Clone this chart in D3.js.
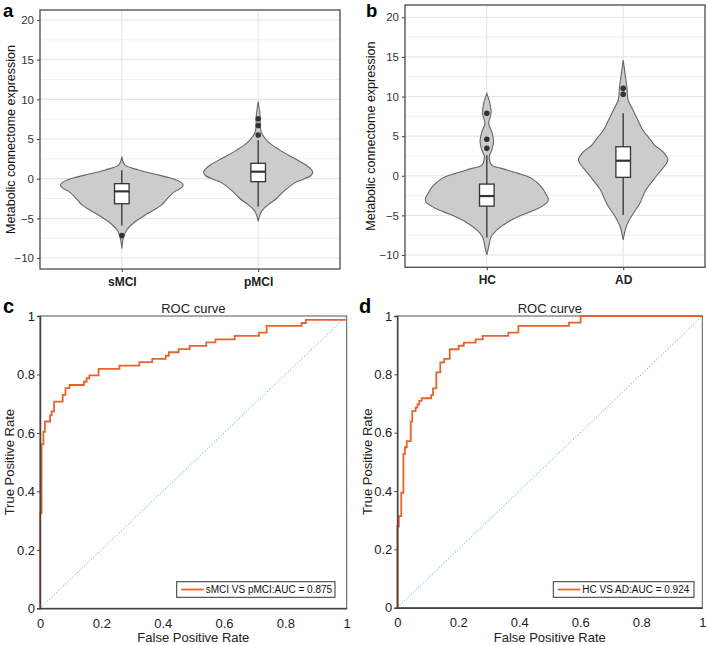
<!DOCTYPE html>
<html><head><meta charset="utf-8">
<script src="https://cdn.jsdelivr.net/npm/d3@7"></script>
<style>
body{margin:0;background:#fff}
svg{display:block}
text{font-family:"Liberation Sans",Arial,Helvetica,sans-serif}
</style>
</head><body>
<svg id="chart" width="708" height="645"></svg>
<script>
// ---------------- DATA ----------------
const groupsA = ["sMCI", "pMCI"];
const groupsB = ["HC", "AD"];
const violinTicks = [-10, -5, 0, 5, 10, 15, 20];
const violinMinor = [-7.5, -2.5, 2.5, 7.5, 12.5, 17.5];

// violin profiles: value and relative density (1 = widest)
const sMCI_val = [2.77, 1.73, 1.10, 0.59, 0.04, -0.5, -0.8, -1.15, -1.64, -2.6, -3.3, -4.37, -5.4, -6.47, -7.3, -8.8];
const sMCI_den = [0, 0.05, 0.27, 0.53, 0.81, 0.97, 1.0, 0.97, 0.86, 0.73, 0.65, 0.43, 0.22, 0.08, 0.03, 0];
const pMCI_val = [9.7, 8.03, 5.9, 4.66, 3.6, 2.57, 1.73, 1.2, 0.8, 0.4, -0.1, -0.5, -1.0, -1.64, -2.5, -3.3, -4.16, -5.4];
const pMCI_den = [0, 0.03, 0.05, 0.16, 0.35, 0.59, 0.78, 0.86, 0.89, 0.86, 0.73, 0.6, 0.51, 0.41, 0.3, 0.16, 0.05, 0];
const HC_val = [10.4, 9.14, 7.88, 6.61, 5.56, 4.3, 3.24, 2.4, 1.35, 0.93, 0.3, -0.33, -1.39, -2.4, -2.86, -3.3, -3.7, -4.33, -4.96, -5.8, -6.86, -7.7, -8.96, -10.0];
const HC_den = [0, 0.05, 0.07, 0.03, 0.08, 0.11, 0.08, 0.04, 0.08, 0.24, 0.51, 0.73, 0.89, 0.97, 1.0, 0.99, 0.93, 0.78, 0.57, 0.35, 0.16, 0.07, 0.03, 0];
const AD_val = [14.6, 12.9, 11.2, 9.56, 8.3, 7.0, 5.77, 4.5, 3.88, 3.03, 2.4, 2.05, 1.6, 0.72, -0.54, -1.8, -3.49, -5.17, -6.4, -8.1];
const AD_den = [0, 0.03, 0.06, 0.08, 0.16, 0.24, 0.32, 0.45, 0.51, 0.65, 0.71, 0.73, 0.71, 0.62, 0.49, 0.37, 0.27, 0.13, 0.05, 0];

// box stats: [lower whisker, Q1, median, Q3, upper whisker]
const sMCI_box = [-5.9, -3.16, -1.6, -0.63, 1.05];
const pMCI_box = [-3.5, -0.38, 0.88, 1.94, 4.85];
const HC_box = [-7.8, -3.83, -2.56, -1.05, 2.6];
const AD_box = [-4.96, -0.2, 1.9, 3.66, 7.88];
const sMCI_out = [-7.17];
const pMCI_out = [5.5, 6.7, 7.55];
const HC_out = [3.46, 4.6, 7.88];
const AD_out = [10.28, 11.03];

// ROC curves (fpr, tpr) corner points
const rocC_fpr = [0, 0, 0.005, 0.011, 0.016, 0.033, 0.038, 0.046, 0.074, 0.083, 0.096, 0.143, 0.152, 0.161, 0.191, 0.259, 0.324, 0.366, 0.41, 0.42, 0.452, 0.488, 0.542, 0.572, 0.635, 0.714, 0.739, 0.853, 0.867, 1];
const rocC_tpr = [0, 0.325, 0.561, 0.604, 0.639, 0.661, 0.674, 0.707, 0.73, 0.753, 0.764, 0.775, 0.787, 0.797, 0.819, 0.83, 0.842, 0.853, 0.864, 0.876, 0.887, 0.898, 0.91, 0.92, 0.932, 0.943, 0.966, 0.976, 0.987, 0.987];
const rocD_fpr = [0, 0, 0.005, 0.013, 0.02, 0.025, 0.031, 0.044, 0.049, 0.06, 0.066, 0.072, 0.08, 0.111, 0.117, 0.128, 0.141, 0.154, 0.172, 0.201, 0.218, 0.257, 0.28, 0.364, 0.397, 0.563, 0.601, 1];
const rocD_tpr = [0, 0.278, 0.314, 0.394, 0.527, 0.55, 0.571, 0.638, 0.674, 0.686, 0.697, 0.709, 0.718, 0.729, 0.752, 0.807, 0.841, 0.853, 0.886, 0.898, 0.909, 0.92, 0.932, 0.943, 0.966, 0.977, 1, 1];
const rocTicks = [0, 0.2, 0.4, 0.6, 0.8, 1];
const rocLabelC = "sMCI VS pMCI:AUC = 0.875";
const rocLabelD = "HC VS AD:AUC = 0.924";

// ---------------- DRAWING ----------------
const svg = d3.select("#chart");
const FONT = '"Liberation Sans",Arial,Helvetica,sans-serif';

function violinPanel(cfg) {
  const g = svg.append("g");
  const x = d3.scalePoint().domain(cfg.groups).range([cfg.left, cfg.right]).padding(0.6);
  const y = d3.scaleLinear().domain([-10, 20]).range(cfg.yRange);
  const step = x.step();
  const w = d3.scaleLinear().domain([0, 1]).range([0, 0.45 * step]);

  // grid
  g.selectAll(".minor").data(violinMinor).join("line")
    .attr("x1", cfg.left).attr("x2", cfg.right)
    .attr("y1", d => y(d)).attr("y2", d => y(d))
    .attr("stroke", "#f1f1f1").attr("stroke-width", 1);
  g.selectAll(".major").data(violinTicks).join("line")
    .attr("x1", cfg.left).attr("x2", cfg.right)
    .attr("y1", d => y(d)).attr("y2", d => y(d))
    .attr("stroke", "#e6e6e6").attr("stroke-width", 1.1);
  g.selectAll(".vgrid").data(cfg.groups).join("line")
    .attr("x1", d => x(d)).attr("x2", d => x(d))
    .attr("y1", cfg.top).attr("y2", cfg.bottom)
    .attr("stroke", "#e6e6e6").attr("stroke-width", 1.1);

  cfg.series.forEach((s, i) => {
    const cx = x(cfg.groups[i]);
    const pts = s.val.map((v, k) => ({ v, d: s.den[k] }));
    const area = d3.area()
      .y(p => y(p.v))
      .x0(p => cx - w(p.d))
      .x1(p => cx + w(p.d))
      .curve(d3.curveCatmullRom.alpha(0.5));
    g.append("path").datum(pts).attr("d", area)
      .attr("fill", "#cccccc").attr("stroke", "#666666").attr("stroke-width", 1.1);
    const b = s.box;
    const bw = 0.107 * step;
    g.append("line").attr("x1", cx).attr("x2", cx).attr("y1", y(b[4])).attr("y2", y(b[3]))
      .attr("stroke", "#333").attr("stroke-width", 1.3);
    g.append("line").attr("x1", cx).attr("x2", cx).attr("y1", y(b[1])).attr("y2", y(b[0]))
      .attr("stroke", "#333").attr("stroke-width", 1.3);
    g.append("rect").attr("x", cx - bw / 2).attr("width", bw)
      .attr("y", y(b[3])).attr("height", y(b[1]) - y(b[3]))
      .attr("fill", "#fff").attr("stroke", "#333").attr("stroke-width", 1.3);
    g.append("line").attr("x1", cx - bw / 2).attr("x2", cx + bw / 2).attr("y1", y(b[2])).attr("y2", y(b[2]))
      .attr("stroke", "#333").attr("stroke-width", 2.2);
    g.selectAll(null).data(s.out).join("circle")
      .attr("cx", cx).attr("cy", d => y(d)).attr("r", 2.8).attr("fill", "#333");
  });

  // border
  g.append("rect").attr("x", cfg.left).attr("y", cfg.top)
    .attr("width", cfg.right - cfg.left).attr("height", cfg.bottom - cfg.top)
    .attr("fill", "none").attr("stroke", "#4a4a4a").attr("stroke-width", 1.3);

  // y axis
  const ya = g.append("g").attr("transform", `translate(${cfg.left},0)`)
    .call(d3.axisLeft(y).tickValues(violinTicks).tickSize(3).tickPadding(3));
  ya.select(".domain").remove();
  ya.selectAll("line").attr("stroke", "#4a4a4a").attr("stroke-width", 1.1);
  ya.selectAll("text").attr("font-size", 11.5).attr("font-family", FONT).attr("fill", "#333");
  // x axis
  const xa = g.append("g").attr("transform", `translate(0,${cfg.bottom})`)
    .call(d3.axisBottom(x).tickSize(3).tickPadding(5));
  xa.select(".domain").remove();
  xa.selectAll("line").attr("stroke", "#4a4a4a").attr("stroke-width", 1.1);
  xa.selectAll("text").attr("font-size", 12).attr("font-weight", "bold").attr("font-family", FONT).attr("fill", "#222");

  g.append("text").attr("transform", `translate(${cfg.titleX},${(cfg.top + cfg.bottom) / 2}) rotate(-90)`)
    .attr("text-anchor", "middle").attr("font-size", 12.5).attr("fill", "#111")
    .text("Metabolic connectome expression");
  g.append("text").attr("x", cfg.letterX).attr("y", 17).attr("font-size", 18.5)
    .attr("font-weight", "bold").attr("fill", "#000").text(cfg.letter);
}

violinPanel({
  groups: groupsA, left: 40, right: 340, top: 10, bottom: 269, yRange: [258, 20],
  titleX: 14.5, letter: "a", letterX: 3,
  series: [
    { val: sMCI_val, den: sMCI_den, box: sMCI_box, out: sMCI_out },
    { val: pMCI_val, den: pMCI_den, box: pMCI_box, out: pMCI_out }
  ]
});
violinPanel({
  groups: groupsB, left: 405, right: 705, top: 5, bottom: 267.3, yRange: [255, 17.3],
  titleX: 374.5, letter: "b", letterX: 366,
  series: [
    { val: HC_val, den: HC_den, box: HC_box, out: HC_out },
    { val: AD_val, den: AD_den, box: AD_box, out: AD_out }
  ]
});

function rocPanel(cfg) {
  const g = svg.append("g");
  const x = d3.scaleLinear().domain([0, 1]).range([cfg.left, cfg.right]);
  const y = d3.scaleLinear().domain([0, 1]).range([cfg.bottom, cfg.top]);

  g.append("rect").attr("x", cfg.left).attr("y", cfg.top)
    .attr("width", cfg.right - cfg.left).attr("height", cfg.bottom - cfg.top)
    .attr("fill", "#fff").attr("stroke", "#555").attr("stroke-width", 1);

  // diagonal reference
  g.append("line").attr("x1", x(0)).attr("y1", y(0)).attr("x2", x(1)).attr("y2", y(1))
    .attr("stroke", "#4ea3e0").attr("stroke-width", 1).attr("stroke-dasharray", "1.2,2");

  const pts = cfg.fpr.map((f, i) => [f, cfg.tpr[i]]);
  const line = d3.line().x(d => x(d[0])).y(d => y(d[1])).curve(d3.curveStepAfter);
  g.append("path").datum(pts).attr("d", line)
    .attr("fill", "none").attr("stroke", "#e8622c").attr("stroke-width", 1.8);

  const xa = g.append("g").attr("transform", `translate(0,${cfg.bottom})`)
    .call(d3.axisBottom(x).tickValues(rocTicks).tickFormat(d3.format("~g")).tickSize(0).tickPadding(10));
  xa.select(".domain").attr("stroke", "#444").attr("stroke-width", 1.5);
  xa.selectAll("text").attr("font-size", 13).attr("font-family", FONT).attr("fill", "#222");
  const ya = g.append("g").attr("transform", `translate(${cfg.left},0)`)
    .call(d3.axisLeft(y).tickValues(rocTicks).tickFormat(d3.format("~g")).tickSize(3).tickPadding(2));
  ya.select(".domain").attr("stroke", "#444").attr("stroke-width", 1.5);
  ya.selectAll("line").attr("stroke", "#444");
  ya.selectAll("text").attr("font-size", 13).attr("font-family", FONT).attr("fill", "#222");

  const cx = (cfg.left + cfg.right) / 2;
  g.append("text").attr("x", cx).attr("y", 313).attr("text-anchor", "middle")
    .attr("font-size", 13).attr("fill", "#222").text("ROC curve");
  g.append("text").attr("x", cx).attr("y", 642).attr("text-anchor", "middle")
    .attr("font-size", 13).attr("fill", "#222").text("False Positive Rate");
  g.append("text").attr("transform", `translate(${cfg.titleX},${(cfg.top + cfg.bottom) / 2}) rotate(-90)`)
    .attr("text-anchor", "middle").attr("font-size", 13).attr("fill", "#222").text("True Positive Rate");

  // legend
  g.append("rect").attr("x", cfg.legX).attr("y", 581.7).attr("width", cfg.legW).attr("height", 15.6)
    .attr("fill", "#fff").attr("stroke", "#333").attr("stroke-width", 1);
  g.append("line").attr("x1", cfg.legX + 4.5).attr("x2", cfg.legX + 27).attr("y1", 589.5).attr("y2", 589.5)
    .attr("stroke", "#e8622c").attr("stroke-width", 1.8);
  g.append("text").attr("x", cfg.legX + 29).attr("y", 593.2).attr("font-size", 10).attr("fill", "#111")
    .text(cfg.label);

  g.append("text").attr("x", cfg.letterX).attr("y", 313).attr("font-size", 20)
    .attr("font-weight", "bold").attr("fill", "#000").text(cfg.letter);
}

rocPanel({ left: 40, right: 346.7, top: 316, bottom: 608.3, fpr: rocC_fpr, tpr: rocC_tpr,
  titleX: 14, legX: 176.7, legW: 158.3, label: rocLabelC, letter: "c", letterX: 3 });
rocPanel({ left: 397.3, right: 702.3, top: 316, bottom: 607.7, fpr: rocD_fpr, tpr: rocD_tpr,
  titleX: 372, legX: 553.3, legW: 140.7, label: rocLabelD, letter: "d", letterX: 359 });
</script>
</body></html>
